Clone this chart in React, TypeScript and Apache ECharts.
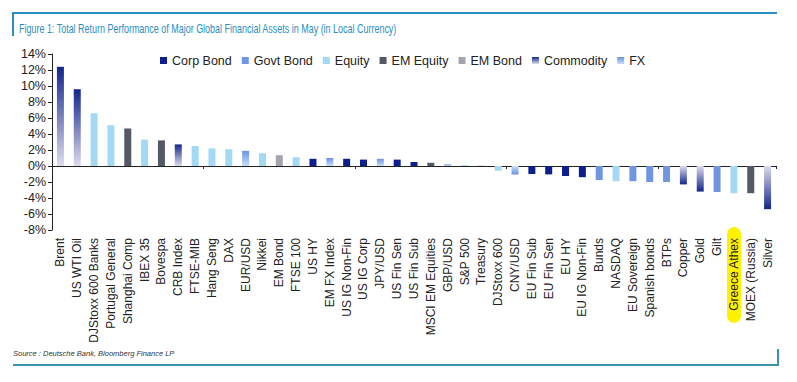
import React, { useEffect, useRef } from "react";
import * as echarts from "echarts";

const categories = [
  "Brent", "US WTI Oil", "DJStoxx 600 Banks", "Portugal General", "Shanghai Comp", "IBEX 35", "Bovespa",
  "CRB Index", "FTSE-MIB", "Hang Seng", "DAX", "EUR/USD", "Nikkei", "EM Bond", "FTSE 100", "US HY",
  "EM FX Index", "US IG Non-Fin", "US IG Corp", "JPY/USD", "US Fin Sen", "US Fin Sub", "MSCI EM Equities",
  "GBP/USD", "S&P 500", "Treasury", "DJStoxx 600", "CNY/USD", "EU Fin Sub", "EU Fin Sen", "EU HY",
  "EU IG Non-Fin", "Bunds", "NASDAQ", "EU Sovereign", "Spanish bonds", "BTPs", "Copper", "Gold", "Gilt",
  "Greece Athex", "MOEX (Russia)", "Silver",
];

const values = [
  12.4, 9.6, 6.6, 5.1, 4.7, 3.3, 3.2,
  2.7, 2.5, 2.2, 2.1, 1.9, 1.6, 1.35, 1.1, 0.9,
  1.0, 0.9, 0.8, 0.9, 0.8, 0.5, 0.4,
  0.2, 0.1, 0.03, -0.6, -1.05, -1.0, -1.05, -1.25,
  -1.4, -1.75, -1.9, -1.9, -2.0, -2.0, -2.3, -3.2, -3.25,
  -3.4, -3.4, -5.4,
];

const groups = [
  "Commodity", "Commodity", "Equity", "Equity", "EM Equity", "Equity", "EM Equity",
  "Commodity", "Equity", "Equity", "Equity", "FX", "Equity", "EM Bond", "Equity", "Corp Bond",
  "FX", "Corp Bond", "Corp Bond", "FX", "Corp Bond", "Corp Bond", "EM Equity",
  "FX", "Equity", "Govt Bond", "Equity", "FX", "Corp Bond", "Corp Bond", "Corp Bond",
  "Corp Bond", "Govt Bond", "Equity", "Govt Bond", "Govt Bond", "Govt Bond", "Commodity", "Commodity", "Govt Bond",
  "Equity", "EM Equity", "Commodity",
];

const seriesNames = ["Corp Bond", "Govt Bond", "Equity", "EM Equity", "EM Bond", "Commodity", "FX"];

const solidColors: Record<string, string> = {
  "Corp Bond": "#0c1f8c",
  "Govt Bond": "#7096e2",
  "Equity": "#a3d9f4",
  "EM Equity": "#555964",
  "EM Bond": "#a4a4ac",
};

const gradientEnds: Record<string, [string, string]> = {
  Commodity: ["#13268a", "#dcdcee"],
  FX: ["#6e92e2", "#c6def6"],
};

function grad(dark: string, light: string, darkTop: boolean) {
  return new echarts.graphic.LinearGradient(0, 0, 0, 1, [
    { offset: 0, color: darkTop ? dark : light },
    { offset: 1, color: darkTop ? light : dark },
  ]);
}

export default function App() {
  const ref = useRef<HTMLDivElement>(null);
  useEffect(() => {
    if (!ref.current) return;
    const chart = echarts.init(ref.current, null, { renderer: "svg" });
    const series = seriesNames.map((name) => {
      const g = gradientEnds[name];
      const data = values.map((v, i) => {
        if (groups[i] !== name) return "-";
        if (g) {
          return { value: v, itemStyle: { color: grad(g[0], g[1], v >= 0) } };
        }
        return v;
      });
      return {
        name,
        type: "bar",
        xAxisIndex: 0,
        barWidth: 7,
        barGap: "-100%",
        itemStyle: { color: g ? grad(g[0], g[1], true) : solidColors[name] },
        data,
      };
    });
    chart.setOption({
      animation: false,
      textStyle: { fontFamily: "Liberation Sans, Arial, sans-serif" },
      legend: {
        left: 160,
        top: 54,
        padding: 0,
        itemWidth: 7,
        itemHeight: 7,
        itemGap: 10,
        icon: "rect",
        textStyle: { fontSize: 12.5, color: "#222" },
        data: seriesNames,
      },
      grid: { left: 52, right: 21, top: 54, bottom: 152 },
      xAxis: [
        {
          type: "category",
          data: categories,
          axisLine: { onZero: true, lineStyle: { color: "#222", width: 1 } },
          axisTick: { show: true, length: 3, lineStyle: { color: "#222" } },
          axisLabel: { show: false },
        },
        {
          type: "category",
          data: categories,
          position: "bottom",
          axisLine: { show: false, onZero: false },
          axisTick: { show: false },
          axisLabel: { rotate: 90, interval: 0, margin: 8, fontSize: 12, color: "#222" },
        },
      ],
      yAxis: {
        type: "value",
        min: -8,
        max: 14,
        interval: 2,
        axisLine: { show: true, lineStyle: { color: "#222" } },
        axisTick: { show: true, length: 4, lineStyle: { color: "#222" } },
        splitLine: { show: false },
        axisLabel: { formatter: "{value}%", fontSize: 12.5, color: "#222", margin: 6 },
      },
      graphic: [
        {
          type: "rect",
          z: -1,
          shape: { x: 727, y: 227, width: 14, height: 96, r: 7 },
          style: { fill: "#fff200" },
        },
        { type: "line", shape: { x1: 13, y1: 13, x2: 777, y2: 13 }, style: { stroke: "#2a8ec2", lineWidth: 2 } },
        { type: "line", shape: { x1: 13, y1: 12, x2: 13, y2: 36 }, style: { stroke: "#2a8ec2", lineWidth: 2 } },
        {
          type: "text",
          x: 19,
          y: 22,
          scaleX: 0.69,
          style: {
            text: "Figure 1: Total Return Performance of Major Global Financial Assets in May (in Local Currency)",
            fontSize: 13,
            fill: "#2a8ec2",
            fontFamily: "Liberation Sans, Arial, sans-serif",
          },
        },
        {
          type: "text",
          x: 13,
          y: 349,
          style: {
            text: "Source : Deutsche Bank, Bloomberg Finance LP",
            fontSize: 7.5,
            fontStyle: "italic",
            fill: "#333",
            fontFamily: "Liberation Sans, Arial, sans-serif",
          },
        },
        { type: "line", shape: { x1: 13, y1: 365, x2: 778, y2: 365 }, style: { stroke: "#3a95aa", lineWidth: 2 } },
        { type: "line", shape: { x1: 778, y1: 349, x2: 778, y2: 366 }, style: { stroke: "#3a95aa", lineWidth: 2 } },
      ],
      series,
    });
    return () => chart.dispose();
  }, []);
  return (
    <div
      ref={ref}
      style={{ position: "absolute", left: 0, top: 0, width: 797, height: 382, background: "#fff" }}
    />
  );
}
